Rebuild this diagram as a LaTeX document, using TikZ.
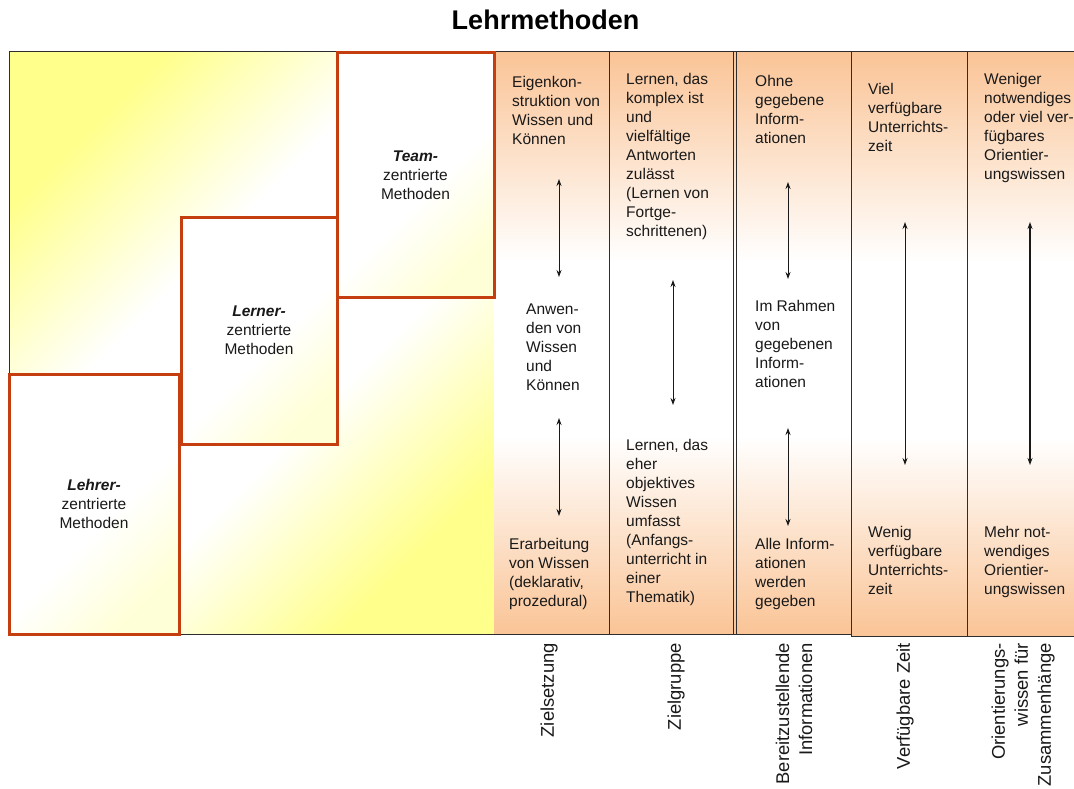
\documentclass[tikz,border=0pt]{standalone}
\usepackage{fontspec}
\setmainfont{Liberation Sans}
\usetikzlibrary{arrows.meta}

\definecolor{peach}{RGB}{250,196,150}
\definecolor{lemon}{RGB}{255,255,140}
\definecolor{brick}{RGB}{197,62,16}
\definecolor{ink}{RGB}{25,25,25}
\definecolor{rule}{RGB}{45,45,45}

% orange at both ends, white band in the middle
\pgfdeclareverticalshading{peachband}{100bp}{%
  color(0bp)=(peach); color(25bp)=(peach); color(42bp)=(white);
  color(57bp)=(white); color(75bp)=(peach); color(100bp)=(peach)}
% yellow in two corners, white along the other diagonal
\pgfdeclarehorizontalshading{lemonband}{100bp}{%
  color(0bp)=(lemon); color(25bp)=(lemon); color(41bp)=(white);
  color(59bp)=(white); color(75bp)=(lemon); color(100bp)=(lemon)}
% nearly white, with a faint yellow tint at one end
\pgfdeclarehorizontalshading{boxtint}{100bp}{%
  color(0bp)=(white); color(25bp)=(white); color(55bp)=(white);
  color(75bp)=(lemon!35!white); color(100bp)=(lemon!35!white)}

\tikzset{
  coltext/.style={anchor=north west, inner sep=0pt, align=left,
    font=\fontsize{15.5}{19}\selectfont, text=ink},
  axislabel/.style={rotate=90, anchor=east, inner sep=0pt, align=right,
    font=\fontsize{18.4}{23}\selectfont, text=ink},
  methbox/.style={draw=brick, line width=3pt, shading=boxtint, shading angle=-45,
    inner sep=0pt, align=center, font=\fontsize{15.5}{19}\selectfont, text=ink},
  colframe/.style={draw=rule, line width=1pt},
  twoway/.style={{Stealth[length=7pt,width=5pt]}-{Stealth[length=7pt,width=5pt]},
    line width=0.9pt, draw=ink},
  strongway/.style={twoway, line width=2pt}
}

\begin{document}
\begin{tikzpicture}[x=1pt, y=-1pt]
  \fill[white] (0,0) rectangle (1074,789);
  \useasboundingbox (0,0) rectangle (1074,789);

  % title
  \node[anchor=base, inner sep=0pt, font=\bfseries\fontsize{27}{32}\selectfont] (title)
    at (545.5,30) {Lehrmethoden};

  % left panel with the stepped method boxes
  \shade[shading=lemonband, shading angle=-45] (9,52) rectangle (494,634);
  \draw[colframe] (9,52) rectangle (494,634);

  % criteria columns
  \shade[shading=peachband] (494,52) rectangle (609,634);
  \shade[shading=peachband] (609,52) rectangle (736,634);
  \shade[shading=peachband] (736,52) rectangle (851,634);
  \shade[shading=peachband] (851,52) rectangle (1080,636);
  \draw[colframe] (494,52) -- (1080,52);
  \draw[colframe] (494,634) -- (851,634);
  \draw[colframe] (851,636) -- (1080,636);
  \draw[colframe] (609,52) -- (609,634);
  \draw[colframe] (733,52) -- (733,634);
  \draw[colframe] (736,52) -- (736,634);
  \draw[colframe] (851,52) -- (851,636);
  \draw[colframe] (967,52) -- (967,636);

  % method boxes
  \node[methbox, minimum width=170pt, minimum height=260pt] (lehrer) at (94,504)
    {\textbf{\textit{Lehrer-}}\\zentrierte\\Methoden};
  \node[methbox, minimum width=156pt, minimum height=227pt] (lerner) at (259,330.5)
    {\textbf{\textit{Lerner-}}\\zentrierte\\Methoden};
  \node[methbox, minimum width=157pt, minimum height=244pt] (team) at (415.5,175)
    {\textbf{\textit{Team-}}\\zentrierte\\Methoden};

  % column 1: Zielsetzung
  \node[coltext] (z1) at (512,76.5) {Eigenkon-\\struktion von\\Wissen und\\Können};
  \node[coltext] (z2) at (526,303.5) {Anwen-\\den von\\Wissen\\und\\Können};
  \node[coltext] (z3) at (509,538.5) {Erarbeitung\\von Wissen\\(deklarativ,\\prozedural)};
  \coordinate (z1a) at (559,179);
  \coordinate (z1b) at (559,277);
  \coordinate (z2a) at (559,418);
  \coordinate (z2b) at (559,516);
  \draw[twoway] (z1a) -- (z1b);
  \draw[twoway] (z2a) -- (z2b);

  % column 2: Zielgruppe
  \node[coltext] (g1) at (626,73.5) {Lernen, das\\komplex ist\\und\\vielfältige\\Antworten\\zulässt\\(Lernen von\\Fortge-\\schrittenen)};
  \node[coltext] (g2) at (626,439.5) {Lernen, das\\eher\\objektives\\Wissen\\umfasst\\(Anfangs-\\unterricht in\\einer\\Thematik)};
  \coordinate (g1a) at (673,280);
  \coordinate (g1b) at (673,405);
  \draw[twoway] (g1a) -- (g1b);

  % column 3: Bereitzustellende Informationen
  \node[coltext] (i1) at (755,75.5) {Ohne\\gegebene\\Inform-\\ationen};
  \node[coltext] (i2) at (755,300.5) {Im Rahmen\\von\\gegebenen\\Inform-\\ationen};
  \node[coltext] (i3) at (755,538.5) {Alle Inform-\\ationen\\werden\\gegeben};
  \coordinate (i1a) at (788,182);
  \coordinate (i1b) at (788,279);
  \coordinate (i2a) at (788,428);
  \coordinate (i2b) at (788,526);
  \draw[twoway] (i1a) -- (i1b);
  \draw[twoway] (i2a) -- (i2b);

  % column 4: Verfügbare Zeit
  \node[coltext] (t1) at (868,83.5) {Viel\\verfügbare\\Unterrichts-\\zeit};
  \node[coltext] (t2) at (868,526.5) {Wenig\\verfügbare\\Unterrichts-\\zeit};
  \coordinate (t1a) at (905,222);
  \coordinate (t1b) at (905,465);
  \draw[twoway] (t1a) -- (t1b);

  % column 5: Orientierungswissen
  \node[coltext] (o1) at (984,73.5) {Weniger\\notwendiges\\oder viel ver-\\fügbares\\Orientier-\\ungswissen};
  \node[coltext] (o2) at (984,526.5) {Mehr not-\\wendiges\\Orientier-\\ungswissen};
  \coordinate (o1a) at (1030,222);
  \coordinate (o1b) at (1030,465);
  \draw[strongway] (o1a) -- (o1b);

  % column captions
  \node[axislabel] (cap1) at (549,643) {Zielsetzung};
  \node[axislabel] (cap2) at (676,643) {Zielgruppe};
  \node[axislabel] (cap3) at (794,643) {Bereitzustellende\\Informationen};
  \node[axislabel] (cap4) at (905,643) {Verfügbare Zeit};
  \node[axislabel] (cap5) at (1023,643) {Orientierungs-\\wissen für\\Zusammenhänge};
\end{tikzpicture}
\end{document}
